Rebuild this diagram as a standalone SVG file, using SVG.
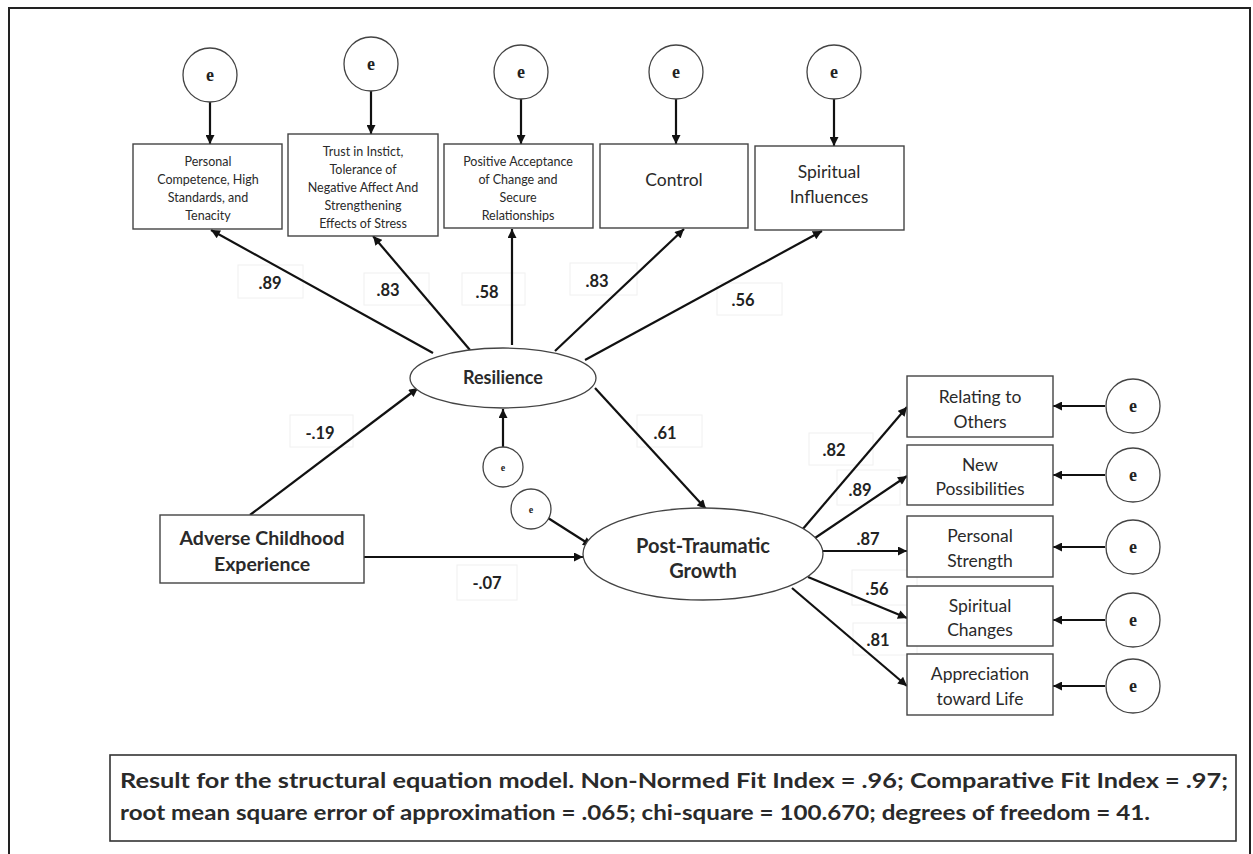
<svg xmlns="http://www.w3.org/2000/svg" width="1253" height="854" viewBox="0 0 1253 854">
<defs>
<marker id="ah" viewBox="0 0 10 10" refX="10" refY="5" markerWidth="10" markerHeight="9" markerUnits="userSpaceOnUse" orient="auto">
<path d="M0,0 L10,5 L0,10 z" fill="#111"/>
</marker>
<style>
.frame{fill:none;stroke:#222;stroke-width:2}
.box{fill:#fff;stroke:#444;stroke-width:1.4}
.circ{fill:#fff;stroke:#444;stroke-width:1.3}
.conn line{stroke:#111;stroke-width:2.2;marker-end:url(#ah)}
.lb{fill:#fff;stroke:#f0f0f0;stroke-width:1}
.t{font-family:Lato,"Liberation Sans",sans-serif;fill:#2a2a2a;text-anchor:middle;dominant-baseline:central}
.s{font-size:12.5px}
.m{font-size:17.5px}
.b{font-weight:bold}
.e{font-family:"Liberation Serif",serif;font-weight:bold;font-size:18px;fill:#222;text-anchor:middle;dominant-baseline:central}
.lab{font-family:Lato,"Liberation Sans",sans-serif;font-weight:bold;font-size:16.5px;fill:#222;text-anchor:middle;dominant-baseline:central}
</style>
</defs>
<rect width="1253" height="854" fill="#fff"/>
<rect class="frame" x="9" y="8" width="1241" height="870"/>

<g id="labels">
<rect class="lb" x="238" y="265" width="65" height="33"/><text class="lab" x="270" y="283">.89</text>
<rect class="lb" x="364" y="273" width="65" height="32"/><text class="lab" x="388" y="290">.83</text>
<rect class="lb" x="462" y="273" width="63" height="32"/><text class="lab" x="487" y="292">.58</text>
<rect class="lb" x="570" y="263" width="67" height="32"/><text class="lab" x="597" y="281">.83</text>
<rect class="lb" x="717" y="283" width="65" height="32"/><text class="lab" x="743" y="300">.56</text>
<rect class="lb" x="290" y="415" width="63" height="32"/><text class="lab" x="320" y="433">-.19</text>
<rect class="lb" x="637" y="415" width="65" height="32"/><text class="lab" x="665" y="433">.61</text>
<rect class="lb" x="457" y="565" width="60" height="35"/><text class="lab" x="487" y="583">-.07</text>
<rect class="lb" x="809" y="433" width="64" height="32"/><text class="lab" x="834" y="450">.82</text>
<rect class="lb" x="837" y="470" width="63" height="35"/><text class="lab" x="860" y="490">.89</text>
<text class="lab" x="868" y="539">.87</text>
<rect class="lb" x="852" y="570" width="65" height="35"/><text class="lab" x="877" y="589">.56</text>
<rect class="lb" x="853" y="623" width="64" height="32"/><text class="lab" x="878" y="640">.81</text>
</g>

<g class="conn" id="connectors">
<line x1="210" y1="102" x2="210" y2="144"/>
<line x1="371" y1="91" x2="371" y2="134"/>
<line x1="521" y1="99" x2="521" y2="144"/>
<line x1="676" y1="99" x2="676" y2="144"/>
<line x1="834" y1="99" x2="834" y2="146"/>
<line x1="433" y1="353" x2="211" y2="230"/>
<line x1="470" y1="350" x2="373" y2="236"/>
<line x1="512" y1="345" x2="512" y2="229"/>
<line x1="555" y1="351" x2="684" y2="229"/>
<line x1="585" y1="360" x2="822" y2="231"/>
<line x1="250" y1="515" x2="418" y2="388"/>
<line x1="595" y1="388" x2="706" y2="509"/>
<line x1="364" y1="557" x2="583" y2="557"/>
<line x1="503" y1="447" x2="503" y2="409"/>
<line x1="548" y1="518" x2="592" y2="546"/>
<line x1="802" y1="530" x2="907" y2="407"/>
<line x1="815" y1="538" x2="907" y2="476"/>
<line x1="822" y1="551" x2="907" y2="551"/>
<line x1="808" y1="577" x2="907" y2="618"/>
<line x1="792" y1="588" x2="907" y2="686"/>
<line x1="1105" y1="406" x2="1053" y2="406"/>
<line x1="1105" y1="475" x2="1053" y2="475"/>
<line x1="1105" y1="547" x2="1053" y2="547"/>
<line x1="1105" y1="620" x2="1053" y2="620"/>
<line x1="1105" y1="686" x2="1053" y2="686"/>
</g>

<g id="e_top1"><circle class="circ" cx="210" cy="75" r="27"/><text class="e" x="210" y="75">e</text></g>
<g id="e_top2"><circle class="circ" cx="371" cy="64" r="27"/><text class="e" x="371" y="64">e</text></g>
<g id="e_top3"><circle class="circ" cx="521" cy="72" r="27"/><text class="e" x="521" y="72">e</text></g>
<g id="e_top4"><circle class="circ" cx="676" cy="72" r="27"/><text class="e" x="676" y="72">e</text></g>
<g id="e_top5"><circle class="circ" cx="834" cy="72" r="27"/><text class="e" x="834" y="72">e</text></g>

<g id="box_personal"><rect class="box" x="133" y="144" width="149" height="85"/>
<text class="t s" x="208" y="161">Personal</text>
<text class="t s" x="208" y="179">Competence, High</text>
<text class="t s" x="208" y="197">Standards, and</text>
<text class="t s" x="208" y="215">Tenacity</text></g>
<g id="box_trust"><rect class="box" x="288" y="134" width="150" height="102"/>
<text class="t s" x="363" y="151">Trust in Instict,</text>
<text class="t s" x="363" y="169">Tolerance of</text>
<text class="t s" x="363" y="187">Negative Affect And</text>
<text class="t s" x="363" y="205">Strengthening</text>
<text class="t s" x="363" y="223">Effects of Stress</text></g>
<g id="box_positive"><rect class="box" x="444" y="144" width="149" height="84"/>
<text class="t s" x="518" y="161">Positive Acceptance</text>
<text class="t s" x="518" y="179">of Change and</text>
<text class="t s" x="518" y="197">Secure</text>
<text class="t s" x="518" y="215">Relationships</text></g>
<g id="box_control"><rect class="box" x="600" y="144" width="148" height="84"/>
<text class="t m" x="674" y="179">Control</text></g>
<g id="box_spiritual"><rect class="box" x="755" y="146" width="149" height="84"/>
<text class="t m" x="829" y="171">Spiritual</text>
<text class="t m" x="829" y="196">Influences</text></g>

<g id="resilience"><ellipse class="circ" cx="503" cy="378" rx="93" ry="30"/>
<text class="t b" style="font-size:18px" x="503" y="377">Resilience</text></g>
<g id="e_res"><circle class="circ" cx="503" cy="467" r="20"/><text class="e" style="font-size:10px" x="503" y="467">e</text></g>
<g id="e_ptg"><circle class="circ" cx="531" cy="509" r="20"/><text class="e" style="font-size:10px" x="531" y="509">e</text></g>

<g id="adverse"><rect class="box" x="160" y="515" width="204" height="68"/>
<text class="t b" style="font-size:19.5px" x="262" y="537">Adverse Childhood</text>
<text class="t b" style="font-size:19.5px" x="262" y="563">Experience</text></g>

<g id="ptg"><ellipse class="circ" cx="703" cy="554" rx="120" ry="46"/>
<text class="t b" style="font-size:20px" x="703" y="545">Post-Traumatic</text>
<text class="t b" style="font-size:20px" x="703" y="570">Growth</text></g>

<g id="box_relating"><rect class="box" x="907" y="376" width="146" height="61"/>
<text class="t m" x="980" y="396">Relating to</text><text class="t m" x="980" y="421">Others</text></g>
<g id="box_new"><rect class="box" x="907" y="445" width="146" height="60"/>
<text class="t m" x="980" y="464">New</text><text class="t m" x="980" y="488">Possibilities</text></g>
<g id="box_strength"><rect class="box" x="907" y="516" width="146" height="61"/>
<text class="t m" x="980" y="535">Personal</text><text class="t m" x="980" y="560">Strength</text></g>
<g id="box_spchanges"><rect class="box" x="907" y="586" width="146" height="60"/>
<text class="t m" x="980" y="605">Spiritual</text><text class="t m" x="980" y="629">Changes</text></g>
<g id="box_appreciation"><rect class="box" x="907" y="654" width="146" height="61"/>
<text class="t m" x="980" y="673">Appreciation</text><text class="t m" x="980" y="698">toward Life</text></g>

<g id="e_r1"><circle class="circ" cx="1133" cy="406" r="27"/><text class="e" x="1133" y="406">e</text></g>
<g id="e_r2"><circle class="circ" cx="1133" cy="475" r="27"/><text class="e" x="1133" y="475">e</text></g>
<g id="e_r3"><circle class="circ" cx="1133" cy="547" r="27"/><text class="e" x="1133" y="547">e</text></g>
<g id="e_r4"><circle class="circ" cx="1133" cy="620" r="27"/><text class="e" x="1133" y="620">e</text></g>
<g id="e_r5"><circle class="circ" cx="1133" cy="686" r="27"/><text class="e" x="1133" y="686">e</text></g>

<g id="caption"><rect x="110" y="755" width="1126" height="86" fill="#fff" stroke="#333" stroke-width="1.6"/>
<text class="t b" style="font-size:20px;text-anchor:start" x="120" y="780" textLength="1108" lengthAdjust="spacingAndGlyphs">Result for the structural equation model. Non-Normed Fit Index = .96; Comparative Fit Index = .97;</text>
<text class="t b" style="font-size:20px;text-anchor:start" x="120" y="812" textLength="1030" lengthAdjust="spacingAndGlyphs">root mean square error of approximation = .065; chi-square = 100.670; degrees of freedom = 41.</text></g>
</svg>
